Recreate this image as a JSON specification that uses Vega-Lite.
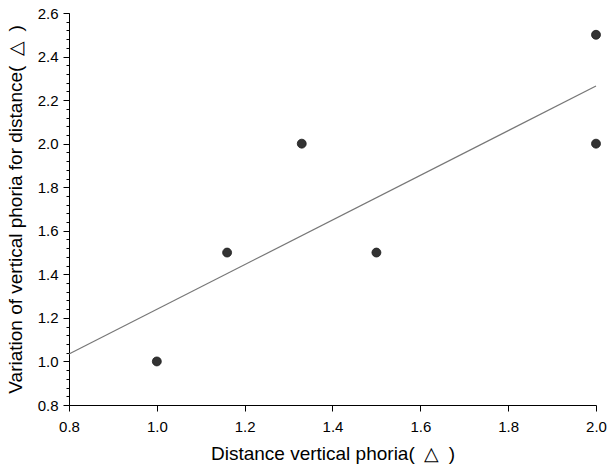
{
  "$schema": "https://vega.github.io/schema/vega-lite/v6.json",
  "width": 527,
  "height": 392,
  "autosize": "none",
  "padding": {"left": 69, "top": 13, "right": 12, "bottom": 65},
  "background": "white",
  "config": {
    "view": {"stroke": null},
    "font": "Liberation Sans",
    "axis": {"grid": false, "domainColor": "#000", "tickColor": "#000", "labelColor": "#000", "titleColor": "#000", "labelFont": "Liberation Sans", "titleFont": "Liberation Sans", "titleFontWeight": "normal"}
  },
  "datasets": {
    "pts": [
      {"x": 1.0, "y": 1.0},
      {"x": 1.16, "y": 1.5},
      {"x": 1.33, "y": 2.0},
      {"x": 1.5, "y": 1.5},
      {"x": 2.0, "y": 2.0},
      {"x": 2.0, "y": 2.5}
    ],
    "fit": [
      {"x": 0.8, "y": 1.034},
      {"x": 2.0, "y": 2.265}
    ]
  },
  "layer": [
    {
      "data": {"name": "pts"},
      "mark": {"type": "point", "filled": true, "size": 0, "opacity": 0},
      "encoding": {
        "x": {"field": "x", "type": "quantitative", "scale": {"domain": [0.8, 2.0], "nice": false, "zero": false},
          "axis": {"values": [0.8, 1.0, 1.2, 1.4, 1.6, 1.8, 2.0], "tickCount": 100, "format": ".1f", "labelFontSize": 15, "tickSize": 6, "labelPadding": 8, "title": "Distance vertical phoria(\u2002△\u2002)", "titleFontSize": 19, "titlePadding": 10, "domainWidth": 1, "labelFlush": false, "labelOverlap": false}},
        "y": {"field": "y", "type": "quantitative", "scale": {"domain": [0.8, 2.6], "nice": false, "zero": false},
          "axis": {"orient": "left", "values": [0.84,0.88,0.92,0.96,1.04,1.08,1.12,1.16,1.24,1.28,1.32,1.36,1.44,1.48,1.52,1.56,1.64,1.68,1.72,1.76,1.84,1.88,1.92,1.96,2.04,2.08,2.12,2.16,2.24,2.28,2.32,2.36,2.44,2.48,2.52,2.56], "tickCount": 100, "tickSize": 3, "labels": false, "title": null}}
      }
    },
    {
      "data": {"name": "pts"},
      "mark": {"type": "point", "filled": true, "size": 0, "opacity": 0},
      "encoding": {
        "x": {"field": "x", "type": "quantitative"},
        "y": {"field": "y", "type": "quantitative", "scale": {"domain": [0.8, 2.6], "nice": false, "zero": false},
          "axis": {"orient": "left", "values": [0.8, 1.0, 1.2, 1.4, 1.6, 1.8, 2.0, 2.2, 2.4, 2.6], "tickCount": 100, "format": ".1f", "labelFontSize": 15, "tickSize": 6, "labelPadding": 5, "labelFlush": false, "labelOverlap": false,
            "title": "Variation of vertical phoria for distance(\u2002△\u2002)", "titleFontSize": 19, "titleX": -54, "titleY": 196, "titleAngle": -90, "titleAlign": "center", "titleBaseline": "middle"}}
      }
    },
    {
      "data": {"name": "fit"},
      "mark": {"type": "line", "color": "#777777", "strokeWidth": 1.2},
      "encoding": {
        "x": {"field": "x", "type": "quantitative"},
        "y": {"field": "y", "type": "quantitative", "axis": null}
      }
    },
    {
      "data": {"name": "pts"},
      "mark": {"type": "circle", "size": 80, "color": "#333333", "opacity": 1, "stroke": "#1a1a1a", "strokeWidth": 0.8},
      "encoding": {
        "x": {"field": "x", "type": "quantitative"},
        "y": {"field": "y", "type": "quantitative", "axis": null}
      }
    }
  ],
  "resolve": {"axis": {"y": "independent"}}
}
